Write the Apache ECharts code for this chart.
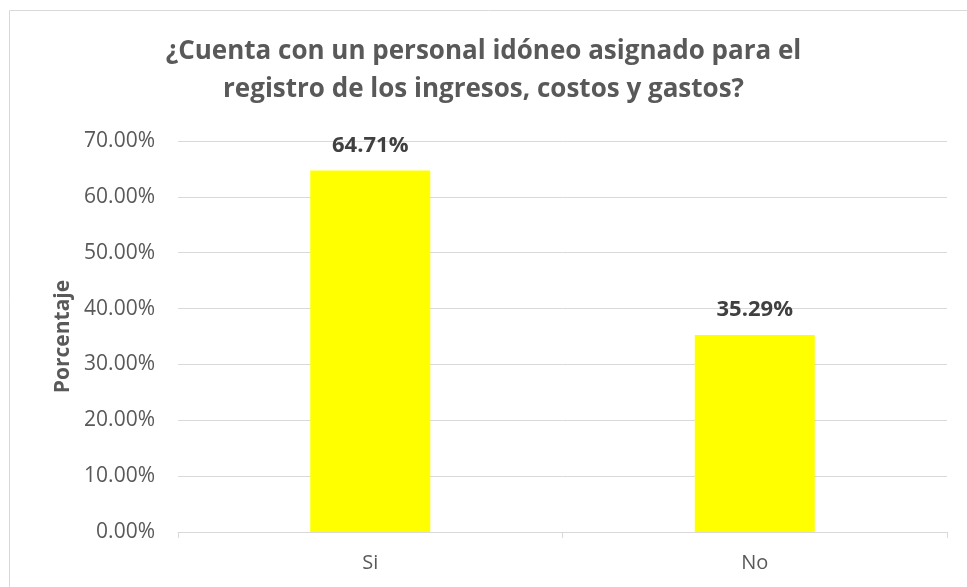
<!DOCTYPE html>
<html><head><meta charset="utf-8">
<script src="https://cdn.jsdelivr.net/npm/echarts@6/dist/echarts.min.js"></script>
<style>html,body{margin:0;padding:0;background:#fff}#c{width:967px;height:587px}</style>
</head><body><div id="c"></div>
<script>
const categories = ["Si", "No"];
const values = [64.71, 35.29];
const yTicks = [0, 10, 20, 30, 40, 50, 60, 70];
const titleText = "¿Cuenta con un personal idóneo asignado para el\nregistro de los ingresos, costos y gastos?";
const yName = "Porcentaje";
const FF = '"Open Sans"';

const chart = echarts.init(document.getElementById('c'));
chart.setOption({
  animation: false,
  backgroundColor: '#fff',
  graphic: [{type: 'rect', shape: {x: 9.5, y: 10.5, width: 1000, height: 1000}, style: {fill: 'none', stroke: '#d9d9d9', lineWidth: 1}, silent: true}],
  title: {
    text: titleText, left: 'center', top: 28,
    textStyle: {fontFamily: FF, fontWeight: 'bold', fontSize: 26, color: '#595959', lineHeight: 38}
  },
  grid: {left: 178, right: 20, top: 141, bottom: 55},
  xAxis: {
    type: 'category', data: categories,
    axisLine: {lineStyle: {color: '#d9d9d9'}},
    axisTick: {show: true, alignWithLabel: false, length: 6, lineStyle: {color: '#d9d9d9'}},
    axisLabel: {fontFamily: FF, fontSize: 20, color: '#595959', margin: 21}
  },
  yAxis: {
    type: 'value', min: yTicks[0], max: yTicks[yTicks.length - 1], interval: 10,
    name: yName, nameLocation: 'middle', nameGap: 103,
    nameTextStyle: {fontFamily: FF, fontWeight: 'bold', fontSize: 21, color: '#595959'},
    axisLine: {show: false}, axisTick: {show: false},
    splitLine: {lineStyle: {color: '#d9d9d9'}},
    axisLabel: {fontFamily: FF, fontSize: 21, color: '#595959', margin: 23, formatter: v => v.toFixed(2) + '%'}
  },
  series: [{
    type: 'bar', data: values, barWidth: 120,
    itemStyle: {color: '#ffff00'},
    label: {show: true, position: 'top', distance: 14, fontFamily: FF, fontWeight: 'bold', fontSize: 22, color: '#404040', formatter: p => p.value.toFixed(2) + '%'}
  }]
});
</script></body></html>
